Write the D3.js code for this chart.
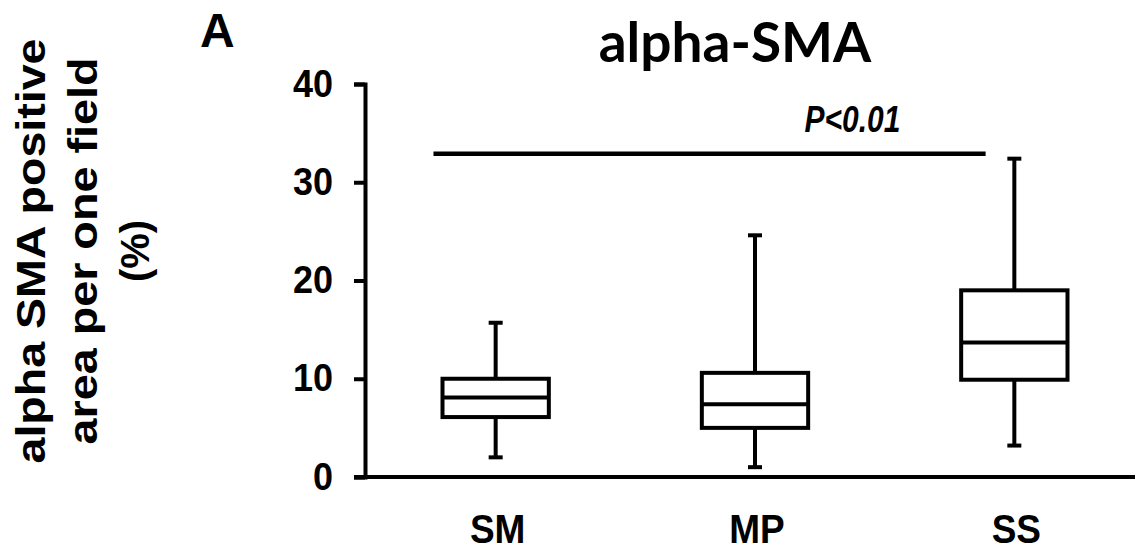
<!DOCTYPE html>
<meta charset="utf-8">
<style>
body { margin: 0; background: #fff; }
text { font-family: "Liberation Sans", Arial, sans-serif; font-weight: bold; fill: #000; }
.title { font-family: Lato, "Liberation Sans", sans-serif; }
.box rect, .box line { stroke: #000; stroke-width: 4px; fill: none; }
</style>
<svg width="1144" height="553"></svg>
<script src="https://cdn.jsdelivr.net/npm/d3@7"></script>
<script>

// data
var groups = ["SM", "MP", "SS"];
var whiskerLow  = [2.0, 1.0, 3.2];
var q1          = [6.1, 5.0, 9.9];
var median      = [8.1, 7.4, 13.7];
var q3          = [10.0, 10.6, 19.0];
var whiskerHigh = [15.7, 24.6, 32.4];
var yTicks = [0, 10, 20, 30, 40];
var sigLevel = 32.9, sigLabel = "P<0.01";

var svg = d3.select("svg");

var y = d3.scaleLinear().domain([0, 40]).range([477, 84]);
var x = d3.scaleBand().domain(groups).range([366, 1144])
    .paddingInner(0.59).paddingOuter(0.295);
var bw = x.bandwidth();

// the figure's lettering is a bit taller than plain Arial
function place(px, py, sy) {
  return "translate(" + px + "," + py + ") scale(1," + sy + ")";
}

// y axis
var yAxis = svg.append("g")
    .attr("transform", "translate(365,0)")
    .call(d3.axisLeft(y).tickValues(yTicks).tickSize(11).tickSizeOuter(11).tickPadding(20));
yAxis.select(".domain").attr("stroke-width", 4);
yAxis.selectAll(".tick line").attr("stroke-width", 4);
yAxis.selectAll(".tick text")
    .style("font-size", "36px")
    .attr("x", null).attr("dy", null)
    .attr("transform", place(-32, 12, 1.08));

// x axis line
svg.append("line")
    .attr("x1", 354).attr("x2", 1135)
    .attr("y1", y(0)).attr("y2", y(0))
    .attr("stroke", "#000").attr("stroke-width", 4);

svg.selectAll(".xlab")
  .data(groups)
  .enter().append("text")
    .attr("class", "xlab")
    .attr("transform", function(d) { return place(x(d) + bw / 2 + 2, 543, 1.12); })
    .attr("text-anchor", "middle")
    .style("font-size", "37px")
    .text(function(d) { return d; });

// boxes
var box = svg.append("g").attr("class", "box")
  .selectAll("g")
  .data(groups)
  .enter().append("g");

box.append("line")   // whisker
    .attr("x1", function(d) { return x(d) + bw / 2; })
    .attr("x2", function(d) { return x(d) + bw / 2; })
    .attr("y1", function(d, i) { return y(whiskerLow[i]); })
    .attr("y2", function(d, i) { return y(whiskerHigh[i]); });

box.append("line")   // low cap
    .attr("x1", function(d) { return x(d) + bw / 2 - 7; })
    .attr("x2", function(d) { return x(d) + bw / 2 + 7; })
    .attr("y1", function(d, i) { return y(whiskerLow[i]); })
    .attr("y2", function(d, i) { return y(whiskerLow[i]); });

box.append("line")   // high cap
    .attr("x1", function(d) { return x(d) + bw / 2 - 7; })
    .attr("x2", function(d) { return x(d) + bw / 2 + 7; })
    .attr("y1", function(d, i) { return y(whiskerHigh[i]); })
    .attr("y2", function(d, i) { return y(whiskerHigh[i]); });

box.append("rect")
    .attr("x", function(d) { return x(d); })
    .attr("width", bw)
    .attr("y", function(d, i) { return y(q3[i]); })
    .attr("height", function(d, i) { return y(q1[i]) - y(q3[i]); })
    .style("fill", "#fff");

box.append("line")   // median
    .attr("x1", function(d) { return x(d); })
    .attr("x2", function(d) { return x(d) + bw; })
    .attr("y1", function(d, i) { return y(median[i]); })
    .attr("y2", function(d, i) { return y(median[i]); });

// significance bar
svg.append("line")
    .attr("x1", x("SM") + bw / 2 - 0.585 * bw)
    .attr("x2", x("SS") + bw / 2 - 0.27 * bw)
    .attr("y1", y(sigLevel)).attr("y2", y(sigLevel))
    .attr("stroke", "#000").attr("stroke-width", 4.5);

svg.append("text")
    .attr("transform", place(x("SS") + bw / 2 - 114, y(35.1), 1.2))
    .attr("text-anchor", "end")
    .style("font-size", "30px")
    .style("font-style", "italic")
    .text(sigLabel);

// title and panel letter
svg.append("text")
    .attr("class", "title")
    .attr("x", 735).attr("y", 62)
    .attr("text-anchor", "middle")
    .style("font-size", "55px")
    .text("alpha-SMA");

svg.append("text")
    .attr("x", 200).attr("y", 47)
    .style("font-size", "48px")
    .text("A");

// y label
var ylab = ["alpha SMA positive", "area per one field", "(%)"];
var ylabLen = [425, 387, 62];
var ylabBase = [45, 97, 149];
svg.selectAll(".ylab")
  .data(ylab)
  .enter().append("text")
    .attr("class", "ylab")
    .attr("transform", function(d, i) { return "translate(" + ylabBase[i] + ",251) rotate(-90)"; })
    .attr("text-anchor", "middle")
    .attr("textLength", function(d, i) { return ylabLen[i]; })
    .attr("lengthAdjust", "spacingAndGlyphs")
    .style("font-size", "41px")
    .text(function(d) { return d; });

</script>
